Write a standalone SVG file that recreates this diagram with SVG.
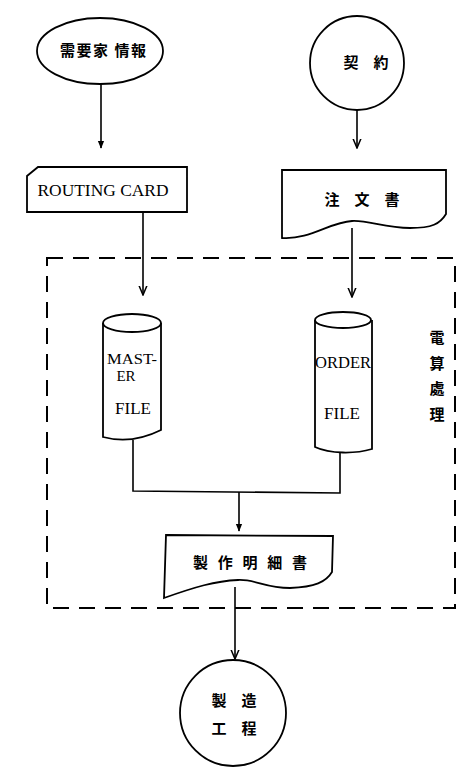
<svg xmlns="http://www.w3.org/2000/svg" width="466" height="769" viewBox="0 0 466 769">
<style>
.sh{fill:#fff;stroke:#000;stroke-width:1.8}
.ln{fill:none;stroke:#000;stroke-width:1.6}
.dash{fill:none;stroke:#000;stroke-width:2;stroke-dasharray:16 10}
.cjk{font-family:"Noto Sans CJK JP","Noto Sans CJK SC",sans-serif;font-size:15px;font-weight:bold;fill:#000}
.en{font-family:"Liberation Serif",serif;font-size:17px;fill:#000}
.sm{font-size:15px}
</style>
<defs>
<marker id="ah" viewBox="0 0 10 10" refX="9" refY="5" markerWidth="8" markerHeight="8" orient="auto" markerUnits="userSpaceOnUse">
<path d="M0,1 L10,5 L0,9 Z" fill="#000"/>
</marker>
<marker id="av" viewBox="0 0 10 10" refX="9.5" refY="5" markerWidth="10" markerHeight="10" orient="auto" markerUnits="userSpaceOnUse">
<path d="M0,1 L9.5,5 L0,9" fill="none" stroke="#000" stroke-width="1.5"/>
</marker>
</defs>

<g id="boundary">
<rect class="dash" x="47" y="258" width="408" height="350"/>
</g>

<g id="connectors">
<line class="ln" x1="101" y1="84" x2="101" y2="148" marker-end="url(#ah)"/>
<line class="ln" x1="357" y1="110" x2="357" y2="148" marker-end="url(#av)"/>
<line class="ln" x1="143" y1="212" x2="143" y2="295" marker-end="url(#av)"/>
<line class="ln" x1="352" y1="228" x2="352" y2="297" marker-end="url(#av)"/>
<polyline class="ln" points="133,440 133,491 340,493 340,453"/>
<line class="ln" x1="239" y1="492" x2="239" y2="531" marker-end="url(#ah)"/>
<line class="ln" x1="235" y1="587" x2="235" y2="659" marker-end="url(#av)"/>
</g>

<g id="demand-info">
<ellipse class="sh" cx="100" cy="51" rx="63" ry="33"/>
<text class="cjk" x="103" y="56" text-anchor="middle" textLength="86" lengthAdjust="spacing">需要家 情報</text>
</g>

<g id="contract">
<circle class="sh" cx="357" cy="63" r="47"/>
<text class="cjk" x="366" y="68" text-anchor="middle">契　約</text>
</g>

<g id="routing-card">
<path class="sh" d="M38,167 L187,167 L187,212 L27,212 L27,176 Z"/>
<text class="en" x="103" y="196" text-anchor="middle" textLength="131" lengthAdjust="spacingAndGlyphs">ROUTING CARD</text>
</g>

<g id="order-doc">
<path class="sh" d="M282,170 L446,170 L446,214 C440,224 432,228 410,228 C385,228 368,220 352,221 C330,222 310,240 282,238 Z"/>
<text class="cjk" x="362" y="205" text-anchor="middle">注　文　書</text>
</g>

<g id="master-file">
<path class="sh" d="M103,323 L103,437 C125,443 145,438 161,430 L161,323"/>
<ellipse class="sh" cx="132" cy="323" rx="29" ry="9"/>
<text class="en sm" x="132" y="364" text-anchor="middle" textLength="50" lengthAdjust="spacingAndGlyphs">MAST-</text>
<text class="en sm" x="126" y="381" text-anchor="middle">ER</text>
<text class="en" x="133" y="414" text-anchor="middle">FILE</text>
</g>

<g id="order-file">
<path class="sh" d="M315,320 L315,447 C330,454 355,454 372,449 L372,320"/>
<ellipse class="sh" cx="343" cy="320" rx="28" ry="8"/>
<text class="en" x="343" y="368" text-anchor="middle" textLength="56" lengthAdjust="spacingAndGlyphs">ORDER</text>
<text class="en" x="342" y="419" text-anchor="middle">FILE</text>
</g>

<g id="computer-processing">
<text class="cjk" x="437" y="343" text-anchor="middle">電</text>
<text class="cjk" x="437" y="369" text-anchor="middle">算</text>
<text class="cjk" x="437" y="394" text-anchor="middle">處</text>
<text class="cjk" x="437" y="420" text-anchor="middle">理</text>
</g>

<g id="production-spec">
<path class="sh" d="M166,535 L333,536 L332,572 C326,582 315,587 290,588 C265,588 255,579 238,580 C215,581 195,587 164,598 Z"/>
<text class="cjk" x="250" y="568" text-anchor="middle" textLength="114" lengthAdjust="spacing">製作明細書</text>
</g>

<g id="manufacturing">
<circle class="sh" cx="233" cy="713" r="53"/>
<text class="cjk" x="234" y="706" text-anchor="middle">製　造</text>
<text class="cjk" x="234" y="734" text-anchor="middle">工　程</text>
</g>
</svg>
